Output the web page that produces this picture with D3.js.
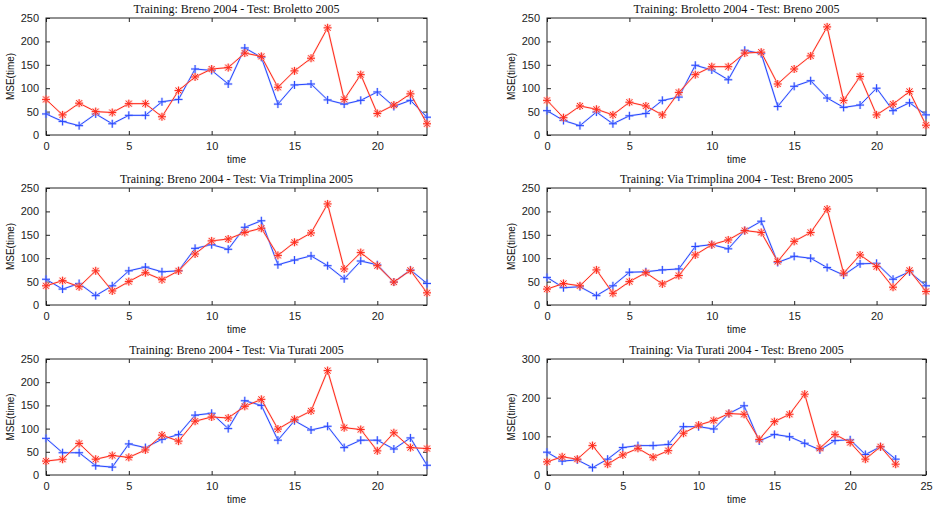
<!DOCTYPE html>
<html>
<head>
<meta charset="utf-8">
<script src="https://cdn.jsdelivr.net/npm/d3@7"></script>
<style>
  body { margin: 0; background: #fff; }
  svg { display: block; }
  .tick text { font-family: "Liberation Sans", Arial, sans-serif; font-size: 11px; fill: #222; }
  .title { font-family: "Liberation Serif", "Times New Roman", serif; font-size: 12px; fill: #111; }
  .lab { font-family: "Liberation Sans", Arial, sans-serif; font-size: 10px; fill: #111; }
</style>
</head>
<body>
<svg width="938" height="508"></svg>
<script>
// hours 0..23
var hours = d3.range(0, 24);

var titles = [
  "Training: Breno 2004 - Test: Broletto 2005",
  "Training: Broletto 2004 - Test: Breno 2005",
  "Training: Breno 2004 - Test: Via Trimplina 2005",
  "Training: Via Trimplina 2004 - Test: Breno 2005",
  "Training: Breno 2004 - Test: Via Turati 2005",
  "Training: Via Turati 2004 - Test: Breno 2005"
];

// red series (star markers)
var red1 = [76, 43, 68, 50, 48, 67, 67, 39, 95, 124, 141, 144, 175, 168, 102, 137, 164, 229, 76, 129, 46, 64, 88, 24];
var red2 = [74, 37, 62, 55, 43, 70, 62, 43, 91, 129, 146, 146, 175, 177, 109, 141, 169, 231, 74, 125, 43, 66, 93, 21];
var red3 = [41, 52, 39, 73, 30, 50, 69, 54, 73, 109, 137, 141, 155, 164, 106, 134, 154, 216, 77, 112, 84, 49, 74, 26];
var red4 = [34, 46, 41, 75, 25, 50, 69, 45, 63, 107, 129, 139, 159, 155, 93, 136, 155, 205, 68, 107, 82, 38, 74, 29];
var red5 = [30, 34, 68, 34, 42, 38, 54, 86, 73, 116, 125, 123, 148, 163, 99, 120, 138, 225, 102, 98, 52, 91, 59, 57];
var red6 = [34, 47, 41, 76, 28, 52, 69, 46, 63, 108, 129, 141, 159, 157, 92, 138, 157, 209, 69, 105, 84, 41, 73, 28];

// blue series (plus markers)
var blue1 = [45, 29, 20, 45, 24, 42, 42, 71, 76, 141, 138, 109, 186, 166, 66, 107, 109, 75, 66, 74, 92, 61, 74, 38];
var blue2 = [52, 31, 20, 49, 24, 41, 46, 74, 81, 149, 139, 118, 181, 174, 61, 104, 116, 79, 59, 64, 100, 52, 69, 43];
var blue3 = [55, 34, 46, 20, 41, 73, 81, 71, 73, 121, 129, 119, 166, 180, 86, 96, 105, 84, 56, 94, 86, 49, 75, 46];
var blue4 = [59, 37, 39, 20, 41, 70, 71, 75, 77, 125, 129, 120, 159, 179, 91, 104, 100, 80, 64, 88, 89, 55, 71, 41];
var blue5 = [79, 48, 48, 20, 17, 67, 59, 77, 87, 129, 133, 100, 160, 150, 75, 117, 97, 105, 59, 75, 75, 56, 80, 21];
var blue6 = [59, 36, 39, 19, 41, 71, 76, 76, 79, 125, 125, 119, 159, 179, 88, 105, 99, 82, 65, 89, 91, 53, 73, 41];

var reds = [red1, red2, red3, red4, red5, red6];
var blues = [blue1, blue2, blue3, blue4, blue5, blue6];

var xMaxes = [23, 23, 23, 23, 23, 25];
var yMaxes = [250, 250, 250, 250, 250, 300];
var xTickVals = [[0, 5, 10, 15, 20], [0, 5, 10, 15, 20], [0, 5, 10, 15, 20], [0, 5, 10, 15, 20], [0, 5, 10, 15, 20], [0, 5, 10, 15, 20, 25]];
var yTickVals = [d3.range(0, 251, 50), d3.range(0, 251, 50), d3.range(0, 251, 50), d3.range(0, 251, 50), d3.range(0, 251, 50), [0, 100, 200, 300]];

var colLeft = [46, 547], colRight = [427, 926];
var rowTop = [18, 188, 359], rowBottom = [135, 305, 475];

var redColor = "#ff2b1c", blueColor = "#2747ff";

var svg = d3.select("svg");

titles.forEach(function (t, i) {
  var col = i % 2, row = Math.floor(i / 2);
  var x0 = colLeft[col], x1 = colRight[col], y0 = rowTop[row], y1 = rowBottom[row];

  var x = d3.scaleLinear().domain([0, xMaxes[i]]).range([x0, x1]);
  var y = d3.scaleLinear().domain([0, yMaxes[i]]).range([y1, y0]);

  var g = svg.append("g");

  // box
  g.append("rect")
    .attr("x", x0).attr("y", y0)
    .attr("width", x1 - x0).attr("height", y1 - y0)
    .attr("fill", "none").attr("stroke", "#222").attr("stroke-width", 1);

  // axes with inward ticks (MATLAB style)
  g.append("g").attr("transform", "translate(0," + y1 + ")")
    .call(d3.axisBottom(x).tickValues(xTickVals[i]).tickSizeInner(-4).tickSizeOuter(0).tickPadding(7))
    .call(function (a) { a.select(".domain").remove(); a.selectAll("line").attr("stroke", "#222"); });
  g.append("g").attr("transform", "translate(0," + y0 + ")")
    .call(d3.axisTop(x).tickValues(xTickVals[i]).tickSizeInner(-4).tickSizeOuter(0).tickFormat(""))
    .call(function (a) { a.select(".domain").remove(); a.selectAll("line").attr("stroke", "#222"); });
  g.append("g").attr("transform", "translate(" + x0 + ",0)")
    .call(d3.axisLeft(y).tickValues(yTickVals[i]).tickSizeInner(-4).tickSizeOuter(0).tickPadding(7))
    .call(function (a) { a.select(".domain").remove(); a.selectAll("line").attr("stroke", "#222"); });
  g.append("g").attr("transform", "translate(" + x1 + ",0)")
    .call(d3.axisRight(y).tickValues(yTickVals[i]).tickSizeInner(-4).tickSizeOuter(0).tickFormat(""))
    .call(function (a) { a.select(".domain").remove(); a.selectAll("line").attr("stroke", "#222"); });

  // title and labels
  g.append("text").attr("class", "title")
    .attr("x", (x0 + x1) / 2).attr("y", y0 - 5)
    .attr("text-anchor", "middle").text(t);
  g.append("text").attr("class", "lab")
    .attr("x", (x0 + x1) / 2).attr("y", y1 + 28)
    .attr("text-anchor", "middle").text("time");
  g.append("text").attr("class", "lab")
    .attr("transform", "translate(" + (x0 - 32) + "," + ((y0 + y1) / 2) + ") rotate(-90)")
    .attr("text-anchor", "middle").text("MSE(time)");

  var line = d3.line().x(function (d, k) { return x(hours[k]); }).y(function (d) { return y(d); });

  // blue series
  g.append("path").datum(blues[i])
    .attr("fill", "none").attr("stroke", "#9db0ff").attr("stroke-width", 2).attr("opacity", 0.45)
    .attr("d", line);
  g.append("path").datum(blues[i])
    .attr("fill", "none").attr("stroke", blueColor).attr("stroke-width", 1)
    .attr("d", line);
  var plus = "M-4,0H4M0,-4V4";
  g.selectAll("path.bm").data(blues[i]).enter().append("path").attr("class", "bm")
    .attr("transform", function (d, k) { return "translate(" + x(hours[k]) + "," + y(d) + ")"; })
    .attr("d", plus).attr("stroke", "#a9b8ff").attr("stroke-width", 2.5).attr("opacity", 0.5);
  g.selectAll("path.bm2").data(blues[i]).enter().append("path").attr("class", "bm2")
    .attr("transform", function (d, k) { return "translate(" + x(hours[k]) + "," + y(d) + ")"; })
    .attr("d", plus).attr("stroke", blueColor).attr("stroke-width", 1);

  // red series
  g.append("path").datum(reds[i])
    .attr("fill", "none").attr("stroke", "#ffaaa0").attr("stroke-width", 2).attr("opacity", 0.45)
    .attr("d", line);
  g.append("path").datum(reds[i])
    .attr("fill", "none").attr("stroke", redColor).attr("stroke-width", 1)
    .attr("d", line);
  var star = "M-4,0H4M0,-4V4M-3,-3L3,3M-3,3L3,-3";
  g.selectAll("path.rm").data(reds[i]).enter().append("path").attr("class", "rm")
    .attr("transform", function (d, k) { return "translate(" + x(hours[k]) + "," + y(d) + ")"; })
    .attr("d", star).attr("stroke", "#ffb0a8").attr("stroke-width", 2.5).attr("opacity", 0.5);
  g.selectAll("path.rm2").data(reds[i]).enter().append("path").attr("class", "rm2")
    .attr("transform", function (d, k) { return "translate(" + x(hours[k]) + "," + y(d) + ")"; })
    .attr("d", star).attr("stroke", redColor).attr("stroke-width", 1);
});
</script>
</body>
</html>
